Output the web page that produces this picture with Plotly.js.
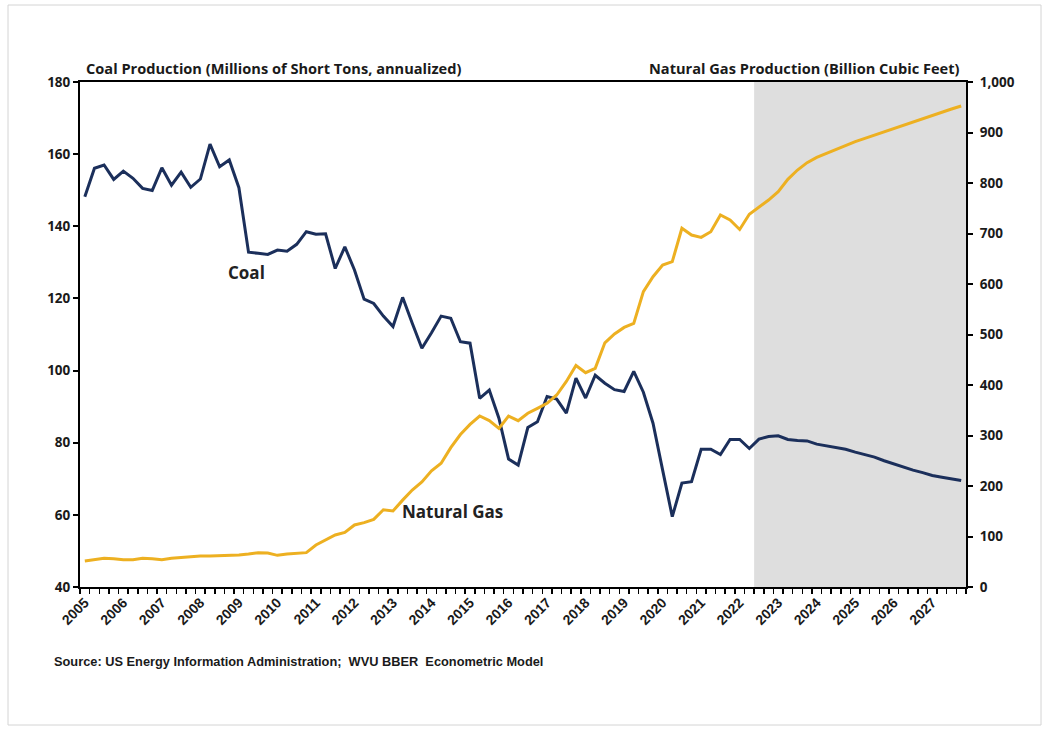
<!DOCTYPE html>
<html>
<head>
<meta charset="utf-8">
<script src="https://cdn.plot.ly/plotly-3.0.1.min.js"></script>
<style>html,body{margin:0;padding:0;background:#fff;}#chart{width:1050px;height:731px;}</style>
</head>
<body>
<div id="chart"></div>
<script>
// Quarterly categories 2005 Q1 .. 2027 Q4
const years = [2005,2006,2007,2008,2009,2010,2011,2012,2013,2014,2015,2016,2017,2018,2019,2020,2021,2022,2023,2024,2025,2026,2027];
const quarterNames = ["Q1","Q2","Q3","Q4"];
const quarters = [];
years.forEach(y => quarterNames.forEach(q => quarters.push(y + " " + q)));

// Coal production (millions of short tons, annualized) - left axis
const coal = [148.2,156.1,157.0,153.0,155.3,153.3,150.5,149.9,156.2,151.4,155.0,150.8,153.1,162.8,156.5,158.4,
  150.7,132.8,132.5,132.2,133.4,133.1,135.0,138.5,137.8,137.9,128.3,134.3,127.9,119.8,118.6,115.1,
  112.2,120.3,113.1,106.2,110.5,115.1,114.5,108.0,107.6,92.3,94.6,86.8,75.5,73.8,84.2,85.8,
  92.8,92.1,88.2,97.9,92.4,98.7,96.5,94.7,94.2,99.8,94.0,85.4,72.4,59.5,68.8,69.2,
  78.2,78.2,76.7,80.9,80.9,78.4,81.0,81.7,81.9,80.9,80.6,80.5,79.6,79.1,78.7,78.2,
  77.4,76.8,76.0,75.0,74.1,73.4,72.4,71.7,70.9,70.4,69.9,69.5];

// Natural gas production (billion cubic feet) - right axis
const gas = [51.5,54,56.8,56,54,54,56.8,56,54,56.8,58.7,59.4,61.4,61.4,62,62,
  63.4,65.3,68,67.3,62.7,65.3,66,68,83.2,93,103,108,122.8,127.4,134,153,
  150.5,172,192,208,230,245,276,302,322,338.6,329.4,314.2,338.6,329.4,344,353.8,
  363.7,380.2,407,438.6,424.4,433,483.5,501,514,522,584.8,614.5,637.6,644.2,
  710.3,697,692.4,703.6,736.6,726.7,708,738,752,766.3,782.8,807.3,825.7,840.3,850.8,858.7,
  867.3,875.2,881.8,888.4,895,901.6,908.3,914.9,921.5,928.1,934.7,940.6,946.5,952.5];

const forecastStart = "2022 Q3";
const yearLabels = years.map(String);

const idx = quarters.map((q, i) => i);
const forecastIdx = quarters.indexOf(forecastStart);
const labelIdx = years.map(y => quarters.indexOf(y + " Q1"));

const FONT = "Lato, 'Open Sans', Arial, sans-serif";
const TFONT = "'Open Sans', Lato, Arial, sans-serif";
const AFONT = "'Liberation Sans', Arial, sans-serif";

const traces = [
  {x: idx, y: gas, text: quarters, type: 'scatter', mode: 'lines', yaxis: 'y2', name: 'Natural Gas',
   line: {color: '#EDB021', width: 3}, hovertemplate: '%{text}: %{y}<extra></extra>'},
  {x: idx, y: coal, text: quarters, type: 'scatter', mode: 'lines', yaxis: 'y', name: 'Coal',
   line: {color: '#1B2F5B', width: 3}, hovertemplate: '%{text}: %{y}<extra></extra>'}
];

const n = quarters.length;
const layout = {
  width: 1050, height: 731,
  margin: {l: 80, r: 84, t: 82, b: 144},
  paper_bgcolor: '#ffffff', plot_bgcolor: '#ffffff',
  showlegend: false,
  font: {family: FONT, color: '#1a1a1a'},
  xaxis: {
    range: [-0.5, n - 0.5], showgrid: false, zeroline: false,
    showline: true, linecolor: '#000', linewidth: 2, mirror: true,
    tickmode: 'array', tickvals: labelIdx, ticktext: yearLabels,
    tickangle: -45, ticks: '', ticklen: 0,
    tickfont: {family: AFONT, size: 14, color: '#1a1a1a', weight: 'bold'},
    minor: {tick0: -0.5, dtick: 1, ticks: 'outside', ticklen: 5, tickwidth: 1.5, tickcolor: '#000', showgrid: false}
  },
  yaxis: {
    range: [40, 180], dtick: 20, showgrid: false, zeroline: false,
    showline: true, linecolor: '#000', linewidth: 2,
    ticks: 'outside', ticklen: 5, tickwidth: 2, tickcolor: '#000',
    tickfont: {family: TFONT, size: 13.5, color: '#1a1a1a', weight: 'bold'}
  },
  yaxis2: {
    range: [0, 1000], dtick: 100, overlaying: 'y', side: 'right', showgrid: false, zeroline: false,
    showline: true, linecolor: '#000', linewidth: 2, tickformat: ',d',
    ticks: 'outside', ticklen: 5, tickwidth: 2, tickcolor: '#000', ticklabelstandoff: 4,
    tickfont: {family: TFONT, size: 13.5, color: '#1a1a1a', weight: 'bold'}
  },
  shapes: [
    {type: 'rect', xref: 'x', yref: 'paper', x0: forecastIdx - 0.5, x1: n - 0.5, y0: 0, y1: 1,
     fillcolor: '#DEDEDE', line: {width: 0}, layer: 'below'},
    {type: 'rect', xref: 'paper', yref: 'paper',
     x0: (8 - 80) / 886, x1: (1041 - 80) / 886, y0: (587 - 725) / 505, y1: (587 - 5) / 505,
     line: {color: '#d4d4d4', width: 1}, fillcolor: 'rgba(0,0,0,0)', layer: 'below'}
  ],
  annotations: [
    {text: 'Coal Production (Millions of Short Tons, annualized)', xref: 'paper', yref: 'paper',
     x: 0.004, y: (587 - 68) / 505, xanchor: 'left', yanchor: 'middle', showarrow: false,
     font: {family: TFONT, size: 14.6, color: '#1a1a1a', weight: 'bold'}},
    {text: 'Natural Gas Production (Billion Cubic Feet)', xref: 'paper', yref: 'paper',
     x: (962 - 80) / 886, y: (587 - 68) / 505, xanchor: 'right', yanchor: 'middle', showarrow: false,
     font: {family: TFONT, size: 14.6, color: '#1a1a1a', weight: 'bold'}},
    {text: 'Coal', xref: 'x', yref: 'y', x: 16.8, y: 127.3, showarrow: false,
     font: {family: TFONT, size: 17, color: '#222', weight: 'bold'}},
    {text: 'Natural Gas', xref: 'x', yref: 'y', x: 38.2, y: 60.8, showarrow: false,
     font: {family: TFONT, size: 17, color: '#222', weight: 'bold'}},
    {text: 'Source: US Energy Information Administration;  WVU BBER  Econometric Model', xref: 'paper', yref: 'paper',
     x: (52 - 80) / 886, y: (587 - 661) / 505, xanchor: 'left', yanchor: 'middle', showarrow: false,
     font: {family: AFONT, size: 12.8, color: '#1a1a1a', weight: 'bold'}}
  ]
};

Plotly.newPlot('chart', traces, layout, {displayModeBar: false, staticPlot: true});
</script>
</body>
</html>
